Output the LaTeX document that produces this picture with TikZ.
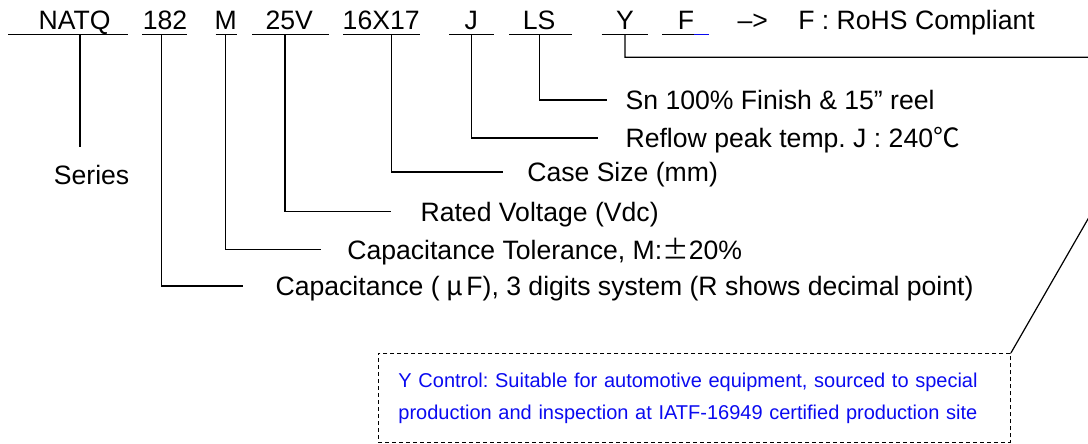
\documentclass[tikz,border=0pt]{standalone}
\usepackage{fontspec}
\setmainfont{Liberation Sans}
\newfontfamily\jpfont{Noto Sans CJK JP}
\definecolor{ctlblue}{RGB}{10,10,240}
\frenchspacing

\begin{document}
\begin{tikzpicture}[x=1pt, y=-1pt, line width=1.2pt,
  font=\fontsize{26.6}{32}\selectfont,
  code/.style={anchor=base, inner sep=0pt, text depth=5pt},
  desc/.style={anchor=west, inner sep=0pt, text height=19pt, text depth=0pt},
  ctlbox/.style={draw, line width=0.9pt, dash pattern=on 4pt off 3pt,
    anchor=north west, minimum height=89pt, inner xsep=20pt, text width=592pt,
    align=left, text=ctlblue, font=\fontsize{20}{32}\selectfont}]
  \useasboundingbox (0,0) rectangle (1088,444);
  \clip (0,0) rectangle (1088,444);
  \node[code] (natq) at (74.7,29.3) {NATQ};
  \node[code] (c182) at (165,29.3) {182};
  \node[code] (m) at (225.8,29.3) {M};
  \node[code] (v25) at (289.2,29.3) {25V};
  \node[code] (c16x17) at (381.2,29.3) {16X17};
  \node[code] (j) at (471.3,29.3) {J};
  \node[code] (ls) at (539.2,29.3) {LS};
  \node[code] (y) at (625,29.3) {Y};
  \node[code] (f) at (686,29.3) {F};
  \node[code, anchor=base west] (arr) at (737,29.3) {–>};
  \node[code, anchor=base west] (rohs) at (797.7,29.3) {F : RoHS Compliant};
  \foreach \a/\b in {8.3/127.7, 142.3/186.7, 215.7/237.3, 252.3/329, 343.3/420,
    449/494.3, 509/571.7, 601.7/648.3, 662/694}
    \draw (\a,34.3) -- (\b,34.3);
  \draw[ctlblue] (694,34.3) -- (709,34.3);
  \node[desc] (series) at (53.3,175) {Series};
  \node[desc] (snfin) at (625,100) {Sn 100\% Finish \& 15” reel};
  \node[desc] (reflow) at (625,138) {Reflow peak temp. J : 240{\jpfont ℃}};
  \node[desc] (casesize) at (526.7,172) {Case Size (mm)};
  \node[desc] (rated) at (420,211.7) {Rated Voltage (Vdc)};
  \node[desc] (captol) at (346.7,249.5) {Capacitance Tolerance, M:{\jpfont ±}20\%};
  \node[desc] (cap) at (275,286) {Capacitance (\hspace{7pt}{\jpfont μ}\hspace{3pt}F), 3 digits system (R shows decimal point)};
  \draw[shorten >=18pt] ([xshift=5.3pt]natq.south) -- ([xshift=5.3pt]natq.south |- series.north);
  \draw[shorten >=31.7pt] ([xshift=-3.7pt]c182.south) |- (cap.west);
  \draw[shorten >=26pt] (m.south) |- (captol.west);
  \draw[shorten >=29pt] ([xshift=-4.2pt]v25.south) |- (rated.west);
  \draw[shorten >=24pt] ([xshift=10.5pt]c16x17.south) |- (casesize.west);
  \draw[shorten >=27pt] (j.south) |- (reflow.west);
  \draw[shorten >=18.3pt] (ls.south) |- (snfin.west);
  \coordinate (yend) at (1181,57.3);
  \node[ctlbox] (yctrl) at (378,353) {Y Control: Suitable for automotive equipment, sourced to special\\production and inspection at IATF-16949 certified production site};
  \draw (y.south) |- (yend) -- (yctrl.north east);
\end{tikzpicture}
\end{document}
